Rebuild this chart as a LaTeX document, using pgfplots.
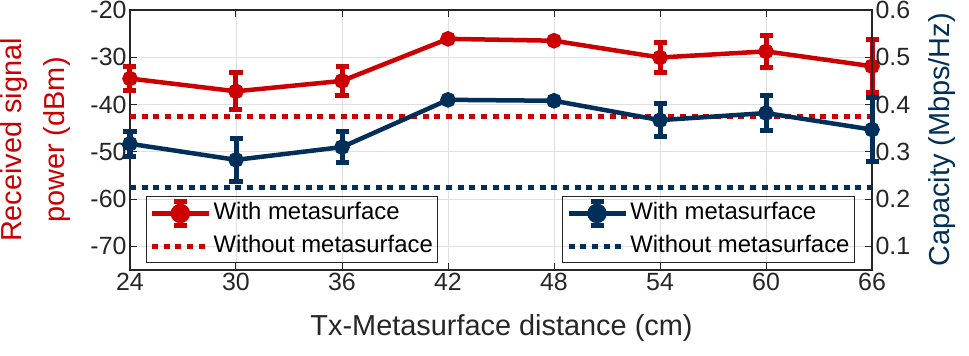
\documentclass[border=0pt]{standalone}
\usepackage{pgfplots}
\pgfplotsset{compat=1.18}
\usepackage{fontspec}
\setmainfont{Liberation Sans}
\definecolor{myred}{HTML}{CC0000}
\definecolor{navy}{HTML}{00305A}
\definecolor{axisgray}{HTML}{262626}
\definecolor{gridc}{HTML}{DFDFDF}

\pgfplotsset{
  withleg/.style={legend image code/.code={
    \draw[#1, line width=4.5bp] (0bp,0bp) -- (57bp,0bp);
    \draw[#1, line width=4.5bp, overlay] (28.5bp,-12bp) -- (28.5bp,12bp)
      (22bp,-12bp) -- (35bp,-12bp) (22bp,12bp) -- (35bp,12bp);
    \fill[#1] (28.5bp,0bp) circle (7.5bp);
  }},
  dotleg/.style={legend image code/.code={\draw[##1] (0bp,0bp) -- (57bp,0bp);}},
  common/.style={
    at={(0,0)}, anchor=south west,
    scale only axis, width=742bp, height=260bp,
    xmin=24, xmax=66, clip=false,
    tick align=inside, major tick length=7bp,
    tick style={color=axisgray, line width=1bp},
    axis line style={axisgray, line width=1.2bp},
    tick label style={font=\fontsize{25}{30}\selectfont, color=axisgray},
    /pgf/number format/assume math mode=true,
    legend style={draw=axisgray, fill=none, line width=0.8bp,
      font=\fontsize{24}{28}\selectfont, text=black,
      inner xsep=3bp, inner ysep=3bp, row sep=6bp,
      nodes={inner sep=2bp, text height=18bp, text depth=5bp}},
    legend cell align=left,
    every error bar/.append style={line width=5bp, solid},
  },
}

\begin{document}
\begin{tikzpicture}
\path[use as bounding box] (-130bp,-86bp) rectangle (839bp,270bp);

\begin{axis}[
  common,
  ymin=-75, ymax=-20,
  xtick={24,30,36,42,48,54,60,66},
  ytick={-70,-60,-50,-40,-30,-20},
  yticklabels={-70,-60,-50,-40,-30,-20},
  ytick pos=left, xtick pos=both,
  xmajorgrids, ymajorgrids, grid style={gridc, line width=0.8bp},
  xlabel={Tx-Metasurface distance (cm)},
  xlabel style={font=\fontsize{29}{34}\selectfont, color=axisgray,
    at={(axis description cs:0.5007,-0.25)}, anchor=base},
  ylabel={Received signal\\power (dBm)},
  ylabel style={font=\fontsize{29}{43}\selectfont, color=myred, align=center,
    at={(axis description cs:-0.1274,0.5)}, anchor=center},
  legend style={at={(0.0212,0.0258)}, anchor=south west},
]
\addplot[withleg=myred, color=myred, line width=4.5bp, mark=*, mark size=5.5bp,
  mark options={solid, fill=myred},
  error bars/.cd, y dir=both, y explicit,
  error mark options={rotate=90, mark size=6.5bp, line width=5bp, myred}]
  coordinates {
  (24,-34.5) +- (0,2.5)
  (30,-37.2) +- (0,3.95)
  (36,-35.0) +- (0,3.1)
  (42,-26.1) +- (0,0)
  (48,-26.5) +- (0,0)
  (54,-30.05) +- (0,3.25)
  (60,-28.75) +- (0,3.35)
  (66,-31.9) +- (0,5.65)
  };
\addlegendentry{With metasurface}
\addplot[color=myred, line width=5.5bp, dash pattern=on 6bp off 5.7bp, dotleg]
  coordinates {(24,-42.5) (66,-42.5)};
\addlegendentry{Without metasurface}
\end{axis}

\begin{axis}[
  common,
  ymin=0.05, ymax=0.6,
  axis x line=none, axis y line*=right,
  ytick={0.1,0.2,0.3,0.4,0.5,0.6},
  yticklabels={0.1,0.2,0.3,0.4,0.5,0.6},
  ylabel={Capacity (Mbps/Hz)},
  ylabel style={font=\fontsize{29}{34}\selectfont, color=navy,
    at={(axis description cs:1.0943,0.5)}, anchor=center},
  legend style={at={(0.977,0.0258)}, anchor=south east},
]
\addplot[withleg=navy, color=navy, line width=4.5bp, mark=*, mark size=5.5bp,
  mark options={solid, fill=navy},
  error bars/.cd, y dir=both, y explicit,
  error mark options={rotate=90, mark size=6.5bp, line width=5bp, navy}]
  coordinates {
  (24,0.317) +- (0,0.0265)
  (30,0.283) +- (0,0.046)
  (36,0.310) +- (0,0.0335)
  (42,0.410) +- (0,0)
  (48,0.408) +- (0,0)
  (54,0.367) +- (0,0.0346)
  (60,0.382) +- (0,0.0367)
  (66,0.347) +- (0,0.067)
  };
\addlegendentry{With metasurface}
\addplot[color=navy, line width=5.5bp, dash pattern=on 6bp off 5.7bp, dotleg]
  coordinates {(24,0.225) (66,0.225)};
\addlegendentry{Without metasurface}
\end{axis}
\end{tikzpicture}
\end{document}
